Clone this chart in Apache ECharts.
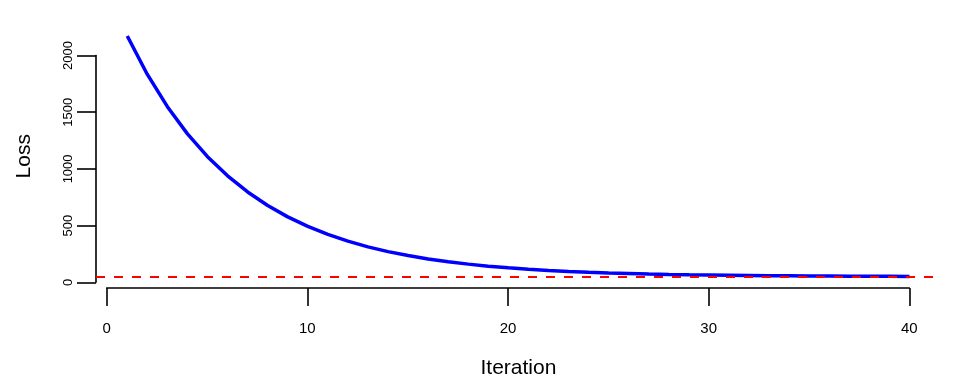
<!DOCTYPE html>
<html>
<head>
<meta charset="utf-8">
<script src="https://cdn.jsdelivr.net/npm/echarts@6/dist/echarts.min.js"></script>
<style>html,body{margin:0;padding:0;background:#fff}#c{width:960px;height:384px}</style>
</head>
<body>
<div id="c"></div>
<script>
var iterations = [1,2,3,4,5,6,7,8,9,10,11,12,13,14,15,16,17,18,19,20,21,22,23,24,25,26,27,28,29,30,31,32,33,34,35,36,37,38,39,40];
var loss = [2172,1831,1545,1304,1102,932,789,669,568,484,413,353,302,260,225,195,170,149,131,116,104,93,84,77,71,66,61,57,54,52,50,48,46,45,44,43,42,41,41,40];
var referenceLoss = 35;
var xTicks = [0,10,20,30,40];
var yTicks = [0,500,1000,1500,2000];
var xTitle = 'Iteration';
var yTitle = 'Loss';

var FONT = 'Liberation Sans, Arial, Helvetica, sans-serif';
var chart = echarts.init(document.getElementById('c'), null, {renderer:'canvas'});
var pts = iterations.map(function(x,i){return [x, loss[i]];});
var hidden = {axisLine:{show:false}, axisTick:{show:false}, axisLabel:{show:false}, splitLine:{show:false}};
chart.setOption({
  animation:false,
  backgroundColor:'#ffffff',
  grid:[
    {left:96, right:19.2, top:26.4, bottom:96.6},
    {left:106.7, right:50.7, top:26.4, bottom:96},
    {left:96, right:19.2, top:55.5, bottom:101.7}
  ],
  xAxis:[
    Object.assign({gridIndex:0, type:'value', min:-0.56, max:41.56, show:true,
     name:xTitle, nameLocation:'middle', nameGap:72,
     nameTextStyle:{fontFamily:FONT, fontSize:21, color:'#000'}}, hidden),
    {gridIndex:1, type:'value', min:xTicks[0], max:xTicks[xTicks.length-1], interval:10,
     axisLine:{show:true, lineStyle:{color:'#000', width:1.6}},
     axisTick:{show:true, inside:false, length:18, lineStyle:{color:'#000', width:1.6}},
     axisLabel:{show:true, margin:33, fontFamily:FONT, fontSize:15, color:'#000',
       formatter:function(v){return String(v);}},
     splitLine:{show:false}},
    Object.assign({gridIndex:2, type:'value', min:0, max:1, show:false}, hidden)
  ],
  yAxis:[
    Object.assign({gridIndex:0, type:'value', min:-45, max:2257, show:true,
     name:yTitle, nameLocation:'middle', nameGap:61, nameRotate:90,
     nameTextStyle:{fontFamily:FONT, fontSize:21, color:'#000'}}, hidden),
    Object.assign({gridIndex:1, type:'value', min:0, max:1, show:false}, hidden),
    {gridIndex:2, type:'value', min:yTicks[0], max:yTicks[yTicks.length-1], interval:500,
     axisLine:{show:true, lineStyle:{color:'#000', width:1.6}},
     axisTick:{show:true, inside:false, length:19, lineStyle:{color:'#000', width:1.6}},
     axisLabel:{show:true, rotate:90, margin:21, fontFamily:FONT, fontSize:13, color:'#000',
       formatter:function(v){return String(v);}},
     splitLine:{show:false}}
  ],
  series:[
    {type:'line', xAxisIndex:0, yAxisIndex:0, data:pts, showSymbol:false, symbol:'none',
     lineStyle:{color:'#0000ff', width:3.5}, z:3,
     markLine:{silent:true, symbol:['none','none'], label:{show:false},
       lineStyle:{color:'#ff0000', type:[9,9], width:2}, data:[{yAxis:referenceLoss}]}}
  ]
});
</script>
</body>
</html>
